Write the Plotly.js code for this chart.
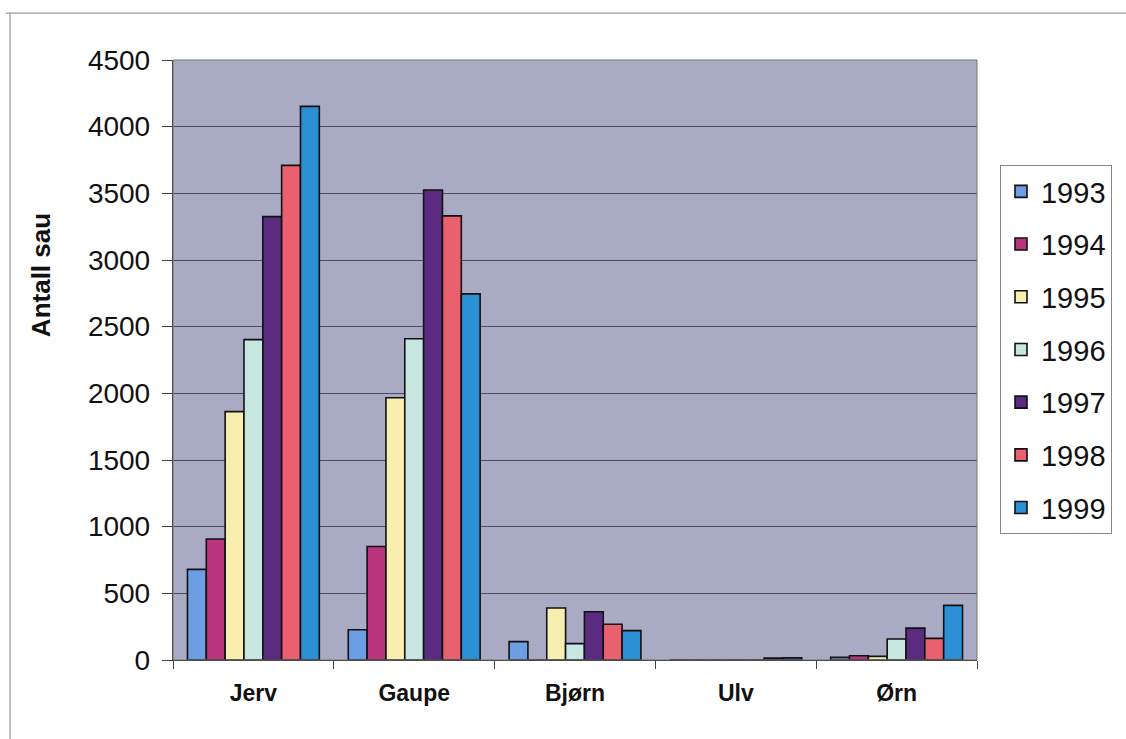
<!DOCTYPE html>
<html>
<head>
<meta charset="utf-8">
<script src="https://cdn.plot.ly/plotly-3.0.1.min.js"></script>
<style>html,body{margin:0;padding:0;background:#fff;}#chart{width:1126px;height:739px;}</style>
</head>
<body>
<div id="chart"></div>
<script>
const categories = ["Jerv", "Gaupe", "Bjørn", "Ulv", "Ørn"];
const years = ["1993", "1994", "1995", "1996", "1997", "1998", "1999"];
const v1993 = [680, 227, 138, 0, 20];
const v1994 = [907, 851, 0, 0, 32];
const v1995 = [1863, 1967, 390, 0, 27];
const v1996 = [2403, 2409, 123, 0, 158];
const v1997 = [3325, 3525, 362, 0, 239];
const v1998 = [3710, 3331, 268, 14, 162];
const v1999 = [4152, 2746, 220, 16, 410];
const yTicks = [0, 500, 1000, 1500, 2000, 2500, 3000, 3500, 4000, 4500];
const seriesValues = [v1993, v1994, v1995, v1996, v1997, v1998, v1999];
const colors = ["#6b9ee3", "#b9367e", "#f7eeb0", "#c6e6df", "#5b2b82", "#e9606f", "#2b90d3"];

const traces = years.map((yr, i) => ({
  type: "bar",
  name: yr,
  x: categories,
  y: seriesValues[i],
  legendgroup: yr,
  marker: {color: colors[i], line: {color: "#111", width: 1.6}}
}));

const layout = {
  width: 1126, height: 739,
  margin: {l: 173, r: 149, t: 60, b: 79},
  paper_bgcolor: "#ffffff",
  plot_bgcolor: "#a9aac4",
  barmode: "group",
  bargap: 0.18,
  bargroupgap: 0,
  font: {family: "Liberation Sans, Arial, sans-serif", color: "#111"},
  showlegend: true,
  legend: {
    x: 1.0286, xanchor: "left", y: 0.825, yanchor: "top",
    bgcolor: "#ffffff", bordercolor: "#888", borderwidth: 1,
    font: {size: 29, color: "#111"},
    traceorder: "grouped", tracegroupgap: 12,
    itemwidth: 30
  },
  xaxis: {
    showgrid: false, showline: true, linecolor: "#222", linewidth: 1.2,
    ticks: "outside", tickson: "boundaries", ticklen: 8, tickcolor: "#444",
    tickfont: {size: 23, family: "Liberation Sans, Arial, sans-serif", weight: "bold"},
    ticklabelstandoff: 12
  },
  yaxis: {
    range: [0, 4500], tickvals: yTicks, ticktext: yTicks.map(String),
    showgrid: true, gridcolor: "#4d4e5a", gridwidth: 1,
    showline: true, linecolor: "#222", linewidth: 1.2,
    ticks: "outside", ticklen: 10, tickcolor: "#444",
    tickfont: {size: 28},
    ticklabelstandoff: 6,
    zeroline: false
  },
  annotations: [
    {text: "<b>Antall sau</b>", xref: "paper", yref: "paper", x: -0.165, y: 0.642,
     xanchor: "center", yanchor: "middle", textangle: -90, showarrow: false,
     font: {size: 26, color: "#111"}}
  ],
  shapes: [
    {type: "rect", xref: "paper", yref: "paper", x0: 0, x1: 1, y0: 0, y1: 1, line: {color: "#777", width: 1}},
    {type: "line", xref: "paper", yref: "paper", x0: -0.208, x1: 1.2, y0: 1.078, y1: 1.078, line: {color: "#999", width: 1.2}},
    {type: "line", xref: "paper", yref: "paper", x0: -0.2027, x1: -0.2027, y0: 1.078, y1: -0.15, line: {color: "#999", width: 1.2}}
  ]
};

Plotly.newPlot("chart", traces, layout, {displayModeBar: false, staticPlot: true});
</script>
</body>
</html>
